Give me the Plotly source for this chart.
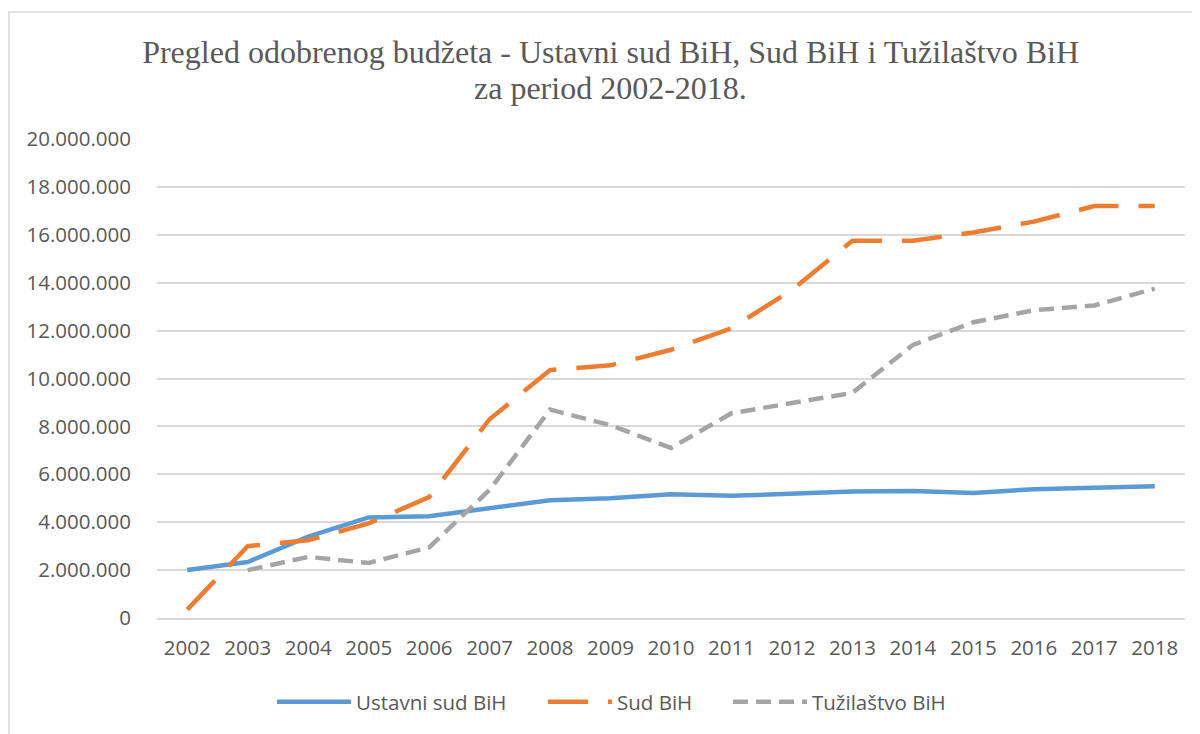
import plotly.graph_objects as go

years = [str(y) for y in range(2002, 2019)]
ustavni_sud = [2000000, 2340000, 3400000, 4200000, 4250000, 4600000, 4920000, 5000000,
               5170000, 5100000, 5200000, 5280000, 5300000, 5220000, 5380000, 5450000, 5500000]
sud_bih = [350000, 3000000, 3250000, 3950000, 5050000, 8300000, 10350000, 10550000,
           11200000, 12100000, 13700000, 15750000, 15750000, 16100000, 16550000, 17200000, 17200000]
tuzilastvo = [None, 2000000, 2550000, 2300000, 2950000, 5350000, 8700000, 8050000,
              7100000, 8550000, 8970000, 9400000, 11400000, 12350000, 12850000, 13050000, 13750000]

names = ["Ustavni sud BiH", "Sud BiH", "Tužilaštvo BiH"]
colors = ["#5B9BD5", "#ED7D31", "#A5A5A5"]
dashes = ["solid", "40px,20px", "15px,8px"]
legend_ids = ["legend", "legend3", "legend2"]
title_lines = ["Pregled odobrenog budžeta - Ustavni sud BiH, Sud BiH i Tužilaštvo BiH",
               "za period 2002-2018."]

W, H = 1192, 726  # page body has an 8px margin
L, R, T, B = 149, 15, 131, 116
PW, PH = W - L - R, H - T - B

fig = go.Figure()
for name, vals, c, d, lg in zip(names, [ustavni_sud, sud_bih, tuzilastvo], colors, dashes, legend_ids):
    fig.add_trace(go.Scatter(x=years, y=vals, name=name, mode="lines",
                             line=dict(color=c, width=4.5, dash=d),
                             connectgaps=False, legend=lg, showlegend=True))

tick_font = dict(family="Open Sans, Liberation Sans, sans-serif", size=20.5, color="#595959")
title_font = dict(family="Liberation Serif, Times New Roman, serif", size=32, color="#595959")


def legend_at(xpx, itemw):
    return dict(orientation="h", x=xpx / W, xref="container", xanchor="left",
                y=1 - 694 / H, yref="container", yanchor="middle",
                font=tick_font, itemwidth=itemw, bgcolor="rgba(0,0,0,0)",
                visible=True)


fig.update_layout(
    width=W, height=H,
    paper_bgcolor="white", plot_bgcolor="white",
    separators=",.",
    showlegend=True,
    margin=dict(l=L, r=R, t=T, b=B),
    title=dict(
        text=title_lines[0], font=title_font,
        x=0.5055, xref="container", xanchor="center",
        y=1 - 44 / H, yref="container", yanchor="middle",
    ),
    annotations=[dict(text=title_lines[1], font=title_font, showarrow=False,
                      x=0.5055 * W / PW - L / PW, xref="paper", xanchor="center",
                      y=1 + (T - 80) / PH, yref="paper", yanchor="middle")],
    xaxis=dict(type="category", range=[-0.5, 16.5], showgrid=False,
               showline=True, linecolor="#D9D9D9", linewidth=1.5,
               ticks="", tickfont=tick_font, ticklabelstandoff=11),
    yaxis=dict(range=[0, 20000000], dtick=2000000, tickformat=",d",
               showgrid=True, gridcolor="#D9D9D9", gridwidth=1.5,
               zeroline=False, showline=False, ticks="",
               tickfont=tick_font, ticklabelstandoff=25),
    legend=legend_at(264, 74),
    legend3=legend_at(535, 64),
    legend2=legend_at(720, 74),
    shapes=[dict(type="rect", xref="paper", yref="paper",
                 x0=(1 - L) / PW, x1=1 + (R + 20) / PW,
                 y0=-(B + 20) / PH, y1=1 + (T - 4) / PH,
                 line=dict(color="#D9D9D9", width=1.5), fillcolor="rgba(0,0,0,0)",
                 layer="below")],
)

fig.write_html("out.html")
